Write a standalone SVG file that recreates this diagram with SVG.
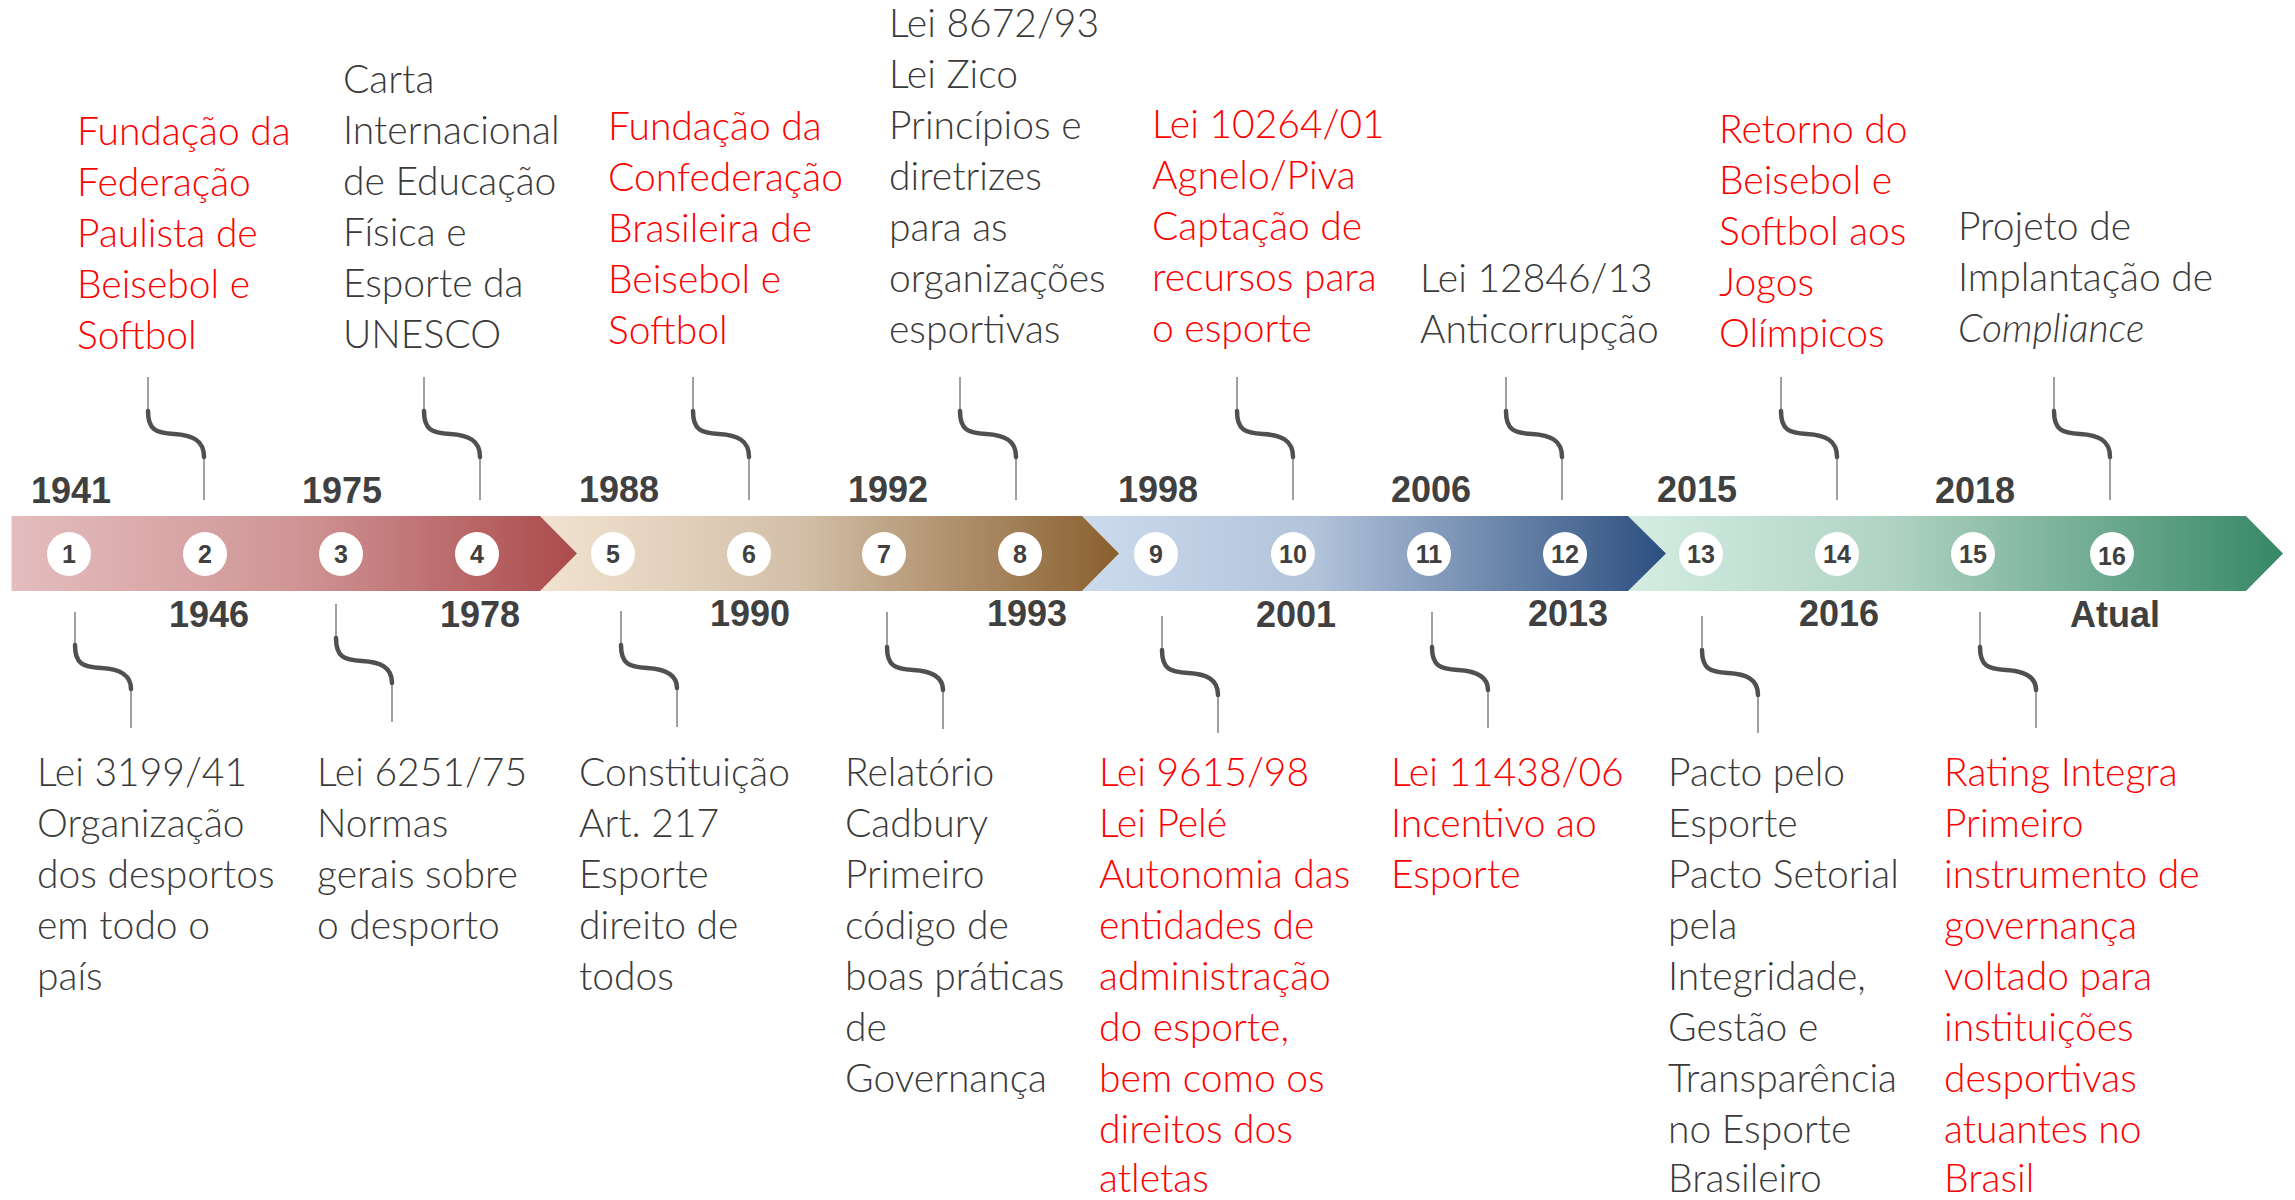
<svg xmlns="http://www.w3.org/2000/svg" width="2295" height="1200" viewBox="0 0 2295 1200">
<style>
.t{font-family:Lato,"Liberation Sans",sans-serif;font-weight:300;font-size:39px;fill:#3a3a3a}
.r{fill:#ff0000}
.yr{font-family:"Liberation Sans",Arial,sans-serif;font-weight:bold;font-size:36px;fill:#404040;text-anchor:middle}
.num{font-family:"Liberation Sans",Arial,sans-serif;font-weight:bold;font-size:25px;fill:#404040;text-anchor:middle}
.dot{fill:#ffffff}
.thin{stroke:#808080;stroke-width:1.5;fill:none}
.s{stroke:#505050;stroke-width:4.5;fill:none;stroke-linecap:round}
</style>
<defs>
<linearGradient id="g1" gradientUnits="userSpaceOnUse" x1="11" y1="0" x2="577" y2="0"><stop offset="0" stop-color="#e4bdbe"/><stop offset="0.5" stop-color="#d09596"/><stop offset="1" stop-color="#ab4a4b"/></linearGradient>
<linearGradient id="g2" gradientUnits="userSpaceOnUse" x1="540" y1="0" x2="1119" y2="0"><stop offset="0" stop-color="#f1e3d0"/><stop offset="0.45" stop-color="#d3bfa8"/><stop offset="1" stop-color="#895f2e"/></linearGradient>
<linearGradient id="g3" gradientUnits="userSpaceOnUse" x1="1082" y1="0" x2="1666" y2="0"><stop offset="0" stop-color="#ccdaed"/><stop offset="0.4" stop-color="#b2c3da"/><stop offset="1" stop-color="#2c4f80"/></linearGradient>
<linearGradient id="g4" gradientUnits="userSpaceOnUse" x1="1628" y1="0" x2="2283" y2="0"><stop offset="0" stop-color="#d4ede3"/><stop offset="0.4" stop-color="#b0d3c4"/><stop offset="1" stop-color="#368866"/></linearGradient>
</defs>

<g id="band">
<polygon fill="url(#g4)" points="1628,516 2246,516 2283,553.5 2246,591 1628,591 1666,553.5"/>
<polygon fill="url(#g3)" points="1082,516 1628,516 1666,553.5 1628,591 1082,591 1119,553.5"/>
<polygon fill="url(#g2)" points="540,516 1082,516 1119,553.5 1082,591 540,591 577,553.5"/>
<polygon fill="url(#g1)" points="11.5,516 540,516 577,553.5 540,591 11.5,591"/>
</g>

<g id="connectors">
<path class="thin" d="M148,377V411M204,457V500"/><path class="s" d="M148,411C148,430 156,433 174,434C192,435 204,440 204,457"/>
<path class="thin" d="M424,377V411M480,457V500"/><path class="s" d="M424,411C424,430 432,433 450,434C468,435 480,440 480,457"/>
<path class="thin" d="M693,377V411M749,457V500"/><path class="s" d="M693,411C693,430 701,433 719,434C737,435 749,440 749,457"/>
<path class="thin" d="M960,377V411M1016,457V500"/><path class="s" d="M960,411C960,430 968,433 986,434C1004,435 1016,440 1016,457"/>
<path class="thin" d="M1237,377V411M1293,457V500"/><path class="s" d="M1237,411C1237,430 1245,433 1263,434C1281,435 1293,440 1293,457"/>
<path class="thin" d="M1506,377V411M1562,457V500"/><path class="s" d="M1506,411C1506,430 1514,433 1532,434C1550,435 1562,440 1562,457"/>
<path class="thin" d="M1781,377V411M1837,457V500"/><path class="s" d="M1781,411C1781,430 1789,433 1807,434C1825,435 1837,440 1837,457"/>
<path class="thin" d="M2054,377V411M2110,457V500"/><path class="s" d="M2054,411C2054,430 2062,433 2080,434C2098,435 2110,440 2110,457"/>
<path class="thin" d="M75,612V645M131,689V728"/><path class="s" d="M75,645C75,664 83,667 101,668C119,669 131,674 131,689"/>
<path class="thin" d="M336,604V638M392,683V722"/><path class="s" d="M336,638C336,657 344,660 362,661C380,662 392,667 392,683"/>
<path class="thin" d="M621,611V645M677,688V727"/><path class="s" d="M621,645C621,664 629,667 647,668C665,669 677,674 677,688"/>
<path class="thin" d="M887,612V647M943,690V729"/><path class="s" d="M887,647C887,666 895,669 913,670C931,671 943,676 943,690"/>
<path class="thin" d="M1162,616V650M1218,695V733"/><path class="s" d="M1162,650C1162,669 1170,672 1188,673C1206,674 1218,679 1218,695"/>
<path class="thin" d="M1432,612V647M1488,690V728"/><path class="s" d="M1432,647C1432,666 1440,669 1458,670C1476,671 1488,676 1488,690"/>
<path class="thin" d="M1702,616V650M1758,695V733"/><path class="s" d="M1702,650C1702,669 1710,672 1728,673C1746,674 1758,679 1758,695"/>
<path class="thin" d="M1980,612V647M2036,690V728"/><path class="s" d="M1980,647C1980,666 1988,669 2006,670C2024,671 2036,676 2036,690"/>
</g>

<g id="e1"><circle class="dot" cx="69" cy="554" r="22"/><text class="num" x="69" y="563">1</text><text class="yr" x="71" y="503">1941</text>
<text class="t" x="37"><tspan x="37" y="786">Lei 3199/41</tspan><tspan x="37" y="837">Organização</tspan><tspan x="37" y="888">dos desportos</tspan><tspan x="37" y="939">em todo o</tspan><tspan x="37" y="990">país</tspan></text></g>

<g id="e2"><circle class="dot" cx="205" cy="554" r="22"/><text class="num" x="205" y="563">2</text><text class="yr" x="209" y="627">1946</text>
<text class="t r" x="77"><tspan x="77" y="145">Fundação da</tspan><tspan x="77" y="196">Federação</tspan><tspan x="77" y="247">Paulista de</tspan><tspan x="77" y="298">Beisebol e</tspan><tspan x="77" y="349">Softbol</tspan></text></g>

<g id="e3"><circle class="dot" cx="341" cy="554" r="22"/><text class="num" x="341" y="563">3</text><text class="yr" x="342" y="503">1975</text>
<text class="t" x="317"><tspan x="317" y="786">Lei 6251/75</tspan><tspan x="317" y="837">Normas</tspan><tspan x="317" y="888">gerais sobre</tspan><tspan x="317" y="939">o desporto</tspan></text></g>

<g id="e4"><circle class="dot" cx="477" cy="554" r="22"/><text class="num" x="477" y="563">4</text><text class="yr" x="480" y="627">1978</text>
<text class="t" x="343"><tspan x="343" y="93">Carta</tspan><tspan x="343" y="144">Internacional</tspan><tspan x="343" y="195">de Educação</tspan><tspan x="343" y="246">Física e</tspan><tspan x="343" y="297">Esporte da</tspan><tspan x="343" y="348">UNESCO</tspan></text></g>

<g id="e5"><circle class="dot" cx="613" cy="554" r="22"/><text class="num" x="613" y="563">5</text><text class="yr" x="619" y="502">1988</text>
<text class="t" x="579"><tspan x="579" y="786">Constituição</tspan><tspan x="579" y="837">Art. 217</tspan><tspan x="579" y="888">Esporte</tspan><tspan x="579" y="939">direito de</tspan><tspan x="579" y="990">todos</tspan></text></g>

<g id="e6"><circle class="dot" cx="749" cy="554" r="22"/><text class="num" x="749" y="563">6</text><text class="yr" x="750" y="626">1990</text>
<text class="t r" x="608"><tspan x="608" y="140">Fundação da</tspan><tspan x="608" y="191">Confederação</tspan><tspan x="608" y="242">Brasileira de</tspan><tspan x="608" y="293">Beisebol e</tspan><tspan x="608" y="344">Softbol</tspan></text></g>

<g id="e7"><circle class="dot" cx="884" cy="554" r="22"/><text class="num" x="884" y="563">7</text><text class="yr" x="888" y="502">1992</text>
<text class="t" x="845"><tspan x="845" y="786">Relatório</tspan><tspan x="845" y="837">Cadbury</tspan><tspan x="845" y="888">Primeiro</tspan><tspan x="845" y="939">código de</tspan><tspan x="845" y="990">boas práticas</tspan><tspan x="845" y="1041">de</tspan><tspan x="845" y="1092">Governança</tspan></text></g>

<g id="e8"><circle class="dot" cx="1020" cy="554" r="22"/><text class="num" x="1020" y="563">8</text><text class="yr" x="1027" y="626">1993</text>
<text class="t" x="889"><tspan x="889" y="37">Lei 8672/93</tspan><tspan x="889" y="88">Lei Zico</tspan><tspan x="889" y="139">Princípios e</tspan><tspan x="889" y="190">diretrizes</tspan><tspan x="889" y="241">para as</tspan><tspan x="889" y="292">organizações</tspan><tspan x="889" y="343">esportivas</tspan></text></g>

<g id="e9"><circle class="dot" cx="1156" cy="554" r="22"/><text class="num" x="1156" y="563">9</text><text class="yr" x="1158" y="502">1998</text>
<text class="t r" x="1099"><tspan x="1099" y="786">Lei 9615/98</tspan><tspan x="1099" y="837">Lei Pelé</tspan><tspan x="1099" y="888">Autonomia das</tspan><tspan x="1099" y="939">entidades de</tspan><tspan x="1099" y="990">administração</tspan><tspan x="1099" y="1041">do esporte,</tspan><tspan x="1099" y="1092">bem como os</tspan><tspan x="1099" y="1143">direitos dos</tspan><tspan x="1099" y="1192">atletas</tspan></text></g>

<g id="e10"><circle class="dot" cx="1293" cy="554" r="22"/><text class="num" x="1293" y="563">10</text><text class="yr" x="1296" y="627">2001</text>
<text class="t r" x="1152"><tspan x="1152" y="138">Lei 10264/01</tspan><tspan x="1152" y="189">Agnelo/Piva</tspan><tspan x="1152" y="240">Captação de</tspan><tspan x="1152" y="291">recursos para</tspan><tspan x="1152" y="342">o esporte</tspan></text></g>

<g id="e11"><circle class="dot" cx="1429" cy="554" r="22"/><text class="num" x="1429" y="563">11</text><text class="yr" x="1431" y="502">2006</text>
<text class="t r" x="1391"><tspan x="1391" y="786">Lei 11438/06</tspan><tspan x="1391" y="837">Incentivo ao</tspan><tspan x="1391" y="888">Esporte</tspan></text></g>

<g id="e12"><circle class="dot" cx="1565" cy="554" r="22"/><text class="num" x="1565" y="563">12</text><text class="yr" x="1568" y="626">2013</text>
<text class="t" x="1420"><tspan x="1420" y="292">Lei 12846/13</tspan><tspan x="1420" y="343">Anticorrupção</tspan></text></g>

<g id="e13"><circle class="dot" cx="1701" cy="554" r="22"/><text class="num" x="1701" y="563">13</text><text class="yr" x="1697" y="502">2015</text>
<text class="t" x="1668"><tspan x="1668" y="786">Pacto pelo</tspan><tspan x="1668" y="837">Esporte</tspan><tspan x="1668" y="888">Pacto Setorial</tspan><tspan x="1668" y="939">pela</tspan><tspan x="1668" y="990">Integridade,</tspan><tspan x="1668" y="1041">Gestão e</tspan><tspan x="1668" y="1092">Transparência</tspan><tspan x="1668" y="1143">no Esporte</tspan><tspan x="1668" y="1192">Brasileiro</tspan></text></g>

<g id="e14"><circle class="dot" cx="1837" cy="554" r="22"/><text class="num" x="1837" y="563">14</text><text class="yr" x="1839" y="626">2016</text>
<text class="t r" x="1719"><tspan x="1719" y="143">Retorno do</tspan><tspan x="1719" y="194">Beisebol e</tspan><tspan x="1719" y="245">Softbol aos</tspan><tspan x="1719" y="296">Jogos</tspan><tspan x="1719" y="347">Olímpicos</tspan></text></g>

<g id="e15"><circle class="dot" cx="1973" cy="554" r="22"/><text class="num" x="1973" y="563">15</text><text class="yr" x="1975" y="503">2018</text>
<text class="t r" x="1944"><tspan x="1944" y="786">Rating Integra</tspan><tspan x="1944" y="837">Primeiro</tspan><tspan x="1944" y="888">instrumento de</tspan><tspan x="1944" y="939">governança</tspan><tspan x="1944" y="990">voltado para</tspan><tspan x="1944" y="1041">instituições</tspan><tspan x="1944" y="1092">desportivas</tspan><tspan x="1944" y="1143">atuantes no</tspan><tspan x="1944" y="1192">Brasil</tspan></text></g>

<g id="e16"><circle class="dot" cx="2112" cy="554" r="22"/><text class="num" x="2112" y="565">16</text><text class="yr" x="2115" y="627">Atual</text>
<text class="t" x="1958"><tspan x="1958" y="240">Projeto de</tspan><tspan x="1958" y="291">Implantação de</tspan><tspan x="1958" y="342" font-style="italic">Compliance</tspan></text></g>
</svg>
